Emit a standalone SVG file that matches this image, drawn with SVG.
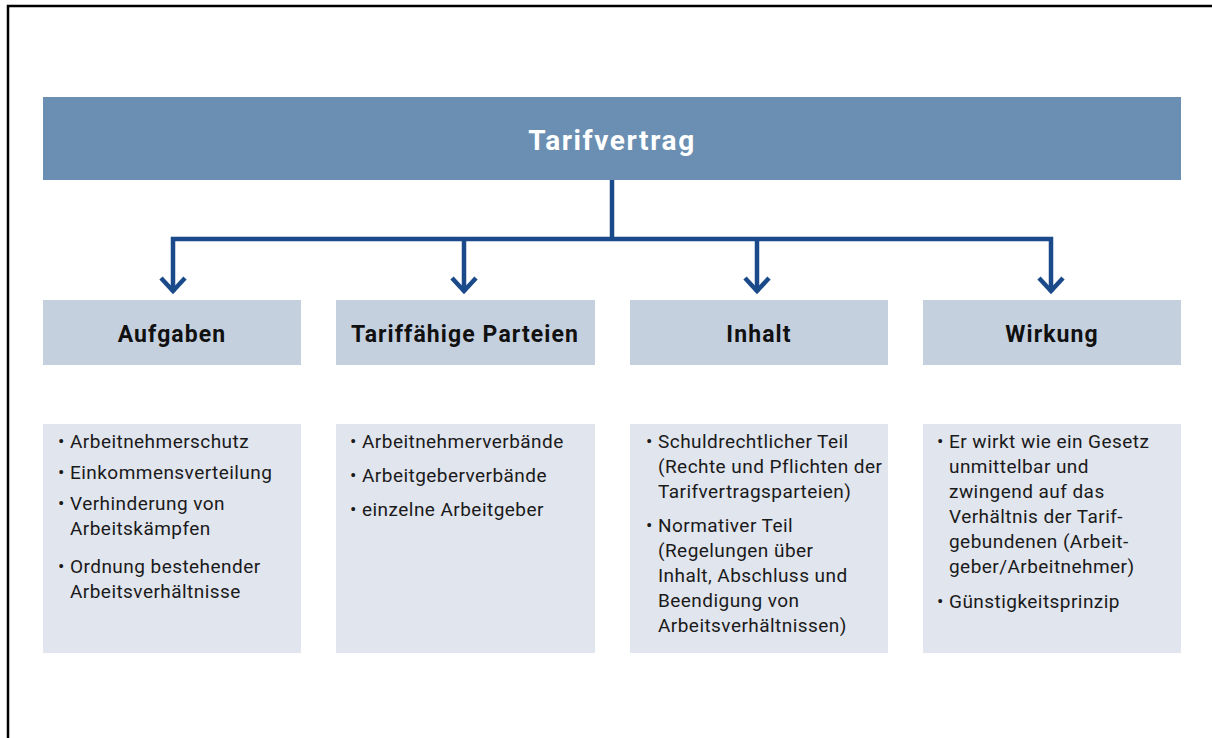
<svg xmlns="http://www.w3.org/2000/svg" width="1212" height="738" viewBox="0 0 1212 738">
<style>
.bar{fill:#6a8fb2}
.hdr{fill:#c5d0df}
.box{fill:#e1e5ee}
.title{font-family:"Roboto","Liberation Sans",sans-serif;font-weight:bold;font-size:28px;letter-spacing:1.6px;fill:#ffffff}
.h{font-family:"Roboto","Liberation Sans",sans-serif;font-weight:bold;font-size:23px;letter-spacing:1.1px;fill:#111111}
.t{font-family:"Roboto","Liberation Sans",sans-serif;font-size:19px;letter-spacing:0.45px;fill:#1a1a1a}
.c{fill:none;stroke:#1b4a8a;stroke-width:4.5}
</style>
<rect x="0" y="0" width="1212" height="738" fill="#ffffff"/>
<path d="M8 738 V6 H1212" fill="none" stroke="#000000" stroke-width="2.5"/>
<g id="tarifvertrag">
<rect class="bar" x="43" y="97" width="1138" height="83"/>
<text class="title" x="612" y="150" text-anchor="middle">Tarifvertrag</text>
</g>
<g id="connectors">
<path class="c" d="M612 180 V239"/>
<path class="c" d="M173 292 V239 H1051 V292"/>
<path class="c" d="M464 239 V292"/>
<path class="c" d="M757 239 V292"/>
<path class="c" d="M161 278 L173 291 L185 278"/>
<path class="c" d="M452 278 L464 291 L476 278"/>
<path class="c" d="M745 278 L757 291 L769 278"/>
<path class="c" d="M1039 278 L1051 291 L1063 278"/>
</g>
<g id="aufgaben">
<rect class="hdr" x="43" y="300" width="258" height="65"/>
<text class="h" x="172" y="342" text-anchor="middle">Aufgaben</text>
</g>
<g id="parteien">
<rect class="hdr" x="336" y="300" width="259" height="65"/>
<text class="h" x="465" y="342" text-anchor="middle">Tariffähige Parteien</text>
</g>
<g id="inhalt">
<rect class="hdr" x="630" y="300" width="258" height="65"/>
<text class="h" x="759" y="342" text-anchor="middle">Inhalt</text>
</g>
<g id="wirkung">
<rect class="hdr" x="923" y="300" width="258" height="65"/>
<text class="h" x="1052" y="342" text-anchor="middle">Wirkung</text>
</g>
<g id="aufgaben-liste">
<rect class="box" x="43" y="424" width="258" height="229"/>
<text class="t" x="58" y="448">• Arbeitnehmerschutz</text>
<text class="t" x="58" y="479">• Einkommensverteilung</text>
<text class="t" x="58" y="510">• Verhinderung von</text>
<text class="t" x="70" y="535">Arbeitskämpfen</text>
<text class="t" x="58" y="573">• Ordnung bestehender</text>
<text class="t" x="70" y="598">Arbeitsverhältnisse</text>
</g>
<g id="parteien-liste">
<rect class="box" x="336" y="424" width="259" height="229"/>
<text class="t" x="350" y="448">• Arbeitnehmerverbände</text>
<text class="t" x="350" y="482">• Arbeitgeberverbände</text>
<text class="t" x="350" y="516">• einzelne Arbeitgeber</text>
</g>
<g id="inhalt-liste">
<rect class="box" x="630" y="424" width="258" height="229"/>
<text class="t" x="646" y="448">• Schuldrechtlicher Teil</text>
<text class="t" x="658" y="473">(Rechte und Pflichten der</text>
<text class="t" x="658" y="498">Tarifvertragsparteien)</text>
<text class="t" x="646" y="532">• Normativer Teil</text>
<text class="t" x="658" y="557">(Regelungen über</text>
<text class="t" x="658" y="582">Inhalt, Abschluss und</text>
<text class="t" x="658" y="607">Beendigung von</text>
<text class="t" x="658" y="632">Arbeitsverhältnissen)</text>
</g>
<g id="wirkung-liste">
<rect class="box" x="923" y="424" width="258" height="229"/>
<text class="t" x="937" y="448">• Er wirkt wie ein Gesetz</text>
<text class="t" x="949" y="473">unmittelbar und</text>
<text class="t" x="949" y="498">zwingend auf das</text>
<text class="t" x="949" y="523">Verhältnis der Tarif-</text>
<text class="t" x="949" y="548">gebundenen (Arbeit-</text>
<text class="t" x="949" y="573">geber/Arbeitnehmer)</text>
<text class="t" x="937" y="608">• Günstigkeitsprinzip</text>
</g>
</svg>
